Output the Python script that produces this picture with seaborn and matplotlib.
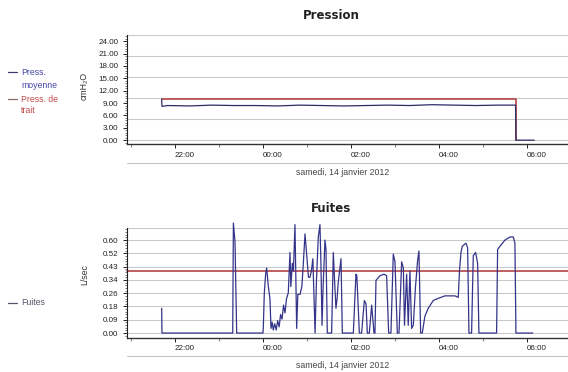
import numpy as np
import pandas as pd
import matplotlib
matplotlib.use("Agg")
import matplotlib.pyplot as plt
import matplotlib.dates as mdates
from matplotlib.ticker import FixedLocator, AutoMinorLocator, FixedFormatter
from matplotlib.lines import Line2D
import seaborn as sns

# ---------------- data ----------------
day = "2012-01-14"
# minutes relative to 00:00 on 14 Jan 2012 (negative = evening of 13 Jan)
press_moy_min = [-138.2, -137.8, -130, -100, -70, -40, -10, 20, 50, 80, 110,
                 140, 170, 200, 230, 260, 290, 320, 344.5, 345.0, 370]
press_moy_val = [9.9, 8.2, 8.4, 8.3, 8.5, 8.4, 8.4, 8.3, 8.5, 8.4, 8.3,
                 8.4, 8.5, 8.4, 8.6, 8.5, 8.4, 8.5, 8.5, 0.0, 0.0]
press_trait_min = [-138.2, 345.0, 345.0]
press_trait_val = [10.0, 10.0, 0.0]

fuites_min = [-138.2, -137.8, -41.3, -40.4, -38.2, -35.9, 0.0, 0.5, 1.8, 3.6,
              5.0, 7.3, 9.5, 10.9, 12.5, 14, 16, 18, 20, 22,
              24, 26, 28, 30, 32, 34.5, 36.8, 38, 40, 41.5,
              43.6, 45.9, 47.5, 50.5, 53, 55, 57.3, 59.5, 62, 64.1,
              66, 68, 71, 73, 75.4, 77.7, 79, 80.5, 82, 84.5,
              85.9, 87.7, 93.6, 95.9, 97.5, 99.5, 101, 102.7, 106.4, 108.2,
              123.2, 126.8, 128, 131.4, 134.5, 138.2, 140.5, 142.3, 145.0, 148.2,
              151.4, 152.7, 154.1, 159.5, 165.0, 168.6, 171.4, 174.5, 177.7, 180.0,
              183.2, 185.5, 189.1, 191.4, 193, 195.9, 198.1, 200.4, 202.7, 205.0,
              208, 210.9, 212.7, 215.0, 217.2, 220.9, 225.4, 232.2, 236.8, 248.1,
              261.8, 266.3, 268, 270, 271.8, 276.8, 279.1, 280.9, 284.5, 286.8,
              290.0, 292.7, 294.5, 318.6, 320.0, 323.2, 330.0, 336.8, 341.4, 343.6,
              345.0, 368]
fuites_val = [0.16, 0.0, 0.0, 0.71, 0.59, 0.0, 0.0, 0.05, 0.26, 0.38,
              0.42, 0.30, 0.22, 0.03, 0.07, 0.02, 0.06, 0.02, 0.08, 0.04,
              0.12, 0.09, 0.18, 0.13, 0.22, 0.26, 0.52, 0.30, 0.45, 0.40,
              0.70, 0.03, 0.25, 0.25, 0.30, 0.45, 0.64, 0.51, 0.36, 0.36,
              0.40, 0.48, 0.0, 0.35, 0.62, 0.70, 0.45, 0.05, 0.30, 0.60,
              0.54, 0.0, 0.0, 0.52, 0.35, 0.16, 0.22, 0.33, 0.48, 0.0,
              0.0, 0.38, 0.37, 0.0, 0.0, 0.21, 0.19, 0.0, 0.0, 0.18,
              0.0, 0.0, 0.34, 0.37, 0.38, 0.37, 0.0, 0.0, 0.51, 0.46,
              0.0, 0.0, 0.46, 0.42, 0.05, 0.38, 0.05, 0.40, 0.03, 0.05,
              0.30, 0.47, 0.53, 0.0, 0.0, 0.11, 0.16, 0.21, 0.22, 0.24,
              0.24, 0.23, 0.40, 0.52, 0.56, 0.58, 0.55, 0.0, 0.0, 0.50,
              0.52, 0.45, 0.0, 0.0, 0.54, 0.56, 0.60, 0.62, 0.62, 0.58,
              0.0, 0.0]
leak_threshold = 0.40

press_ticks = [0, 3, 6, 9, 12, 15, 18, 21, 24]
press_ticklabels = ["0.00", "3.00", "6.00", "9.00", "12.00", "15.00", "18.00", "21.00", "24.00"]
fuites_ticklabels = ["0.00", "0.09", "0.18", "0.26", "0.34", "0.43", "0.52", "0.60"]
date_label = "samedi, 14 janvier 2012"

# ---------------- helpers ----------------
base = pd.Timestamp(day)
def to_time(mins):
    return base + pd.to_timedelta(np.asarray(mins, dtype=float), unit="min")

df_moy = pd.DataFrame({"t": to_time(press_moy_min), "v": press_moy_val})
df_trait = pd.DataFrame({"t": to_time(press_trait_min), "v": press_trait_val})
df_fu = pd.DataFrame({"t": to_time(fuites_min), "v": fuites_val})

sns.set_style("white")
plt.rcParams["font.family"] = ["Liberation Sans", "DejaVu Sans"]

W, H = 568, 372
fig = plt.figure(figsize=(W / 100, H / 100), dpi=100)

def fx(px):
    return px / W
def fy(py):
    return 1 - py / H

ax1 = fig.add_axes([fx(127), fy(144.3), fx(441), 109.3 / H])
ax2 = fig.add_axes([fx(127), fy(337.7), fx(441), 110 / H])

xmin = to_time([-185.5])[0]
xmax = to_time([416])[0]

navy = "#34348a"
red = "#bb5050"
grid_c = "#c9c9c9"

# ---- top panel ----
sns.lineplot(data=df_trait, x="t", y="v", ax=ax1, color=red, lw=1.3,
             estimator=None, sort=False, legend=False)
sns.lineplot(data=df_moy, x="t", y="v", ax=ax1, color="#2c2c66", lw=0.9,
             estimator=None, sort=False, legend=False)
ax1.set_ylim(-1.0, 25.5)
for g in np.linspace(0, 25.5, 6):
    ax1.axhline(g, color=grid_c, lw=0.8, zorder=0)
ax1.yaxis.set_major_locator(FixedLocator(press_ticks))
ax1.yaxis.set_major_formatter(FixedFormatter(press_ticklabels))
ax1.yaxis.set_minor_locator(AutoMinorLocator(5))

# ---- bottom panel ----
fu_ticks = list(np.linspace(0, 0.60, 8))
ax2.axhline(leak_threshold, color=red, lw=1.3, zorder=1)
sns.lineplot(data=df_fu, x="t", y="v", ax=ax2, color=navy, lw=0.9,
             estimator=None, sort=False, legend=False)
for ln in ax2.lines:
    ln.set_clip_on(False)
ax2.set_ylim(-0.03, 0.68)
for g in fu_ticks + [0.68]:
    ax2.axhline(g, color=grid_c, lw=0.8, zorder=0)
ax2.yaxis.set_major_locator(FixedLocator(fu_ticks))
ax2.yaxis.set_major_formatter(FixedFormatter(fuites_ticklabels))
ax2.yaxis.set_minor_locator(AutoMinorLocator(5))

for ax in (ax1, ax2):
    ax.set_xlim(xmin, xmax)
    ax.set_xlabel("")
    ax.set_ylabel("")
    ax.xaxis.set_major_locator(mdates.HourLocator(byhour=range(0, 24, 2)))
    ax.xaxis.set_minor_locator(mdates.HourLocator())
    ax.xaxis.set_major_formatter(mdates.DateFormatter("%H:%M"))
    for s in ("top", "right"):
        ax.spines[s].set_visible(False)
    ax.spines["left"].set_color("#222222")
    ax.spines["left"].set_linewidth(0.8)
    ax.spines["bottom"].set_color("#333333")
    ax.spines["bottom"].set_linewidth(1.0)
    ax.tick_params(axis="both", which="major", labelsize=5.8, colors="#222222",
                   length=3, width=0.7, direction="out", left=True, bottom=True)
    ax.tick_params(axis="both", which="minor", length=1.8, width=0.5,
                   direction="out", left=True, bottom=True, colors="#444444")
    ax.tick_params(axis="y", which="major", pad=3.2)
    ax.tick_params(axis="x", which="major", pad=2.6)
    for lab in ax.get_xticklabels():
        lab.set_ha("left")
    ax.set_facecolor("white")

# axis labels
fig.text(fx(84), fy(85.5), "cmH\u2082O", rotation=90, ha="center", va="center",
         fontsize=6.3, color="#333333")
fig.text(fx(85), fy(275), "L/sec", rotation=90, ha="center", va="center",
         fontsize=6.3, color="#333333")

# titles
fig.text(fx(331), fy(15.5), "Pression", ha="center", va="center",
         fontsize=8.5, fontweight="bold", family="DejaVu Sans", color="#222222")
fig.text(fx(331), fy(208.5), "Fuites", ha="center", va="center",
         fontsize=8.5, fontweight="bold", family="DejaVu Sans", color="#222222")

# separators and date labels
for ysep in (163.3, 356):
    fig.add_artist(Line2D([fx(127), fx(568)], [fy(ysep), fy(ysep)],
                          color="#c4c4c4", lw=0.8))
fig.text(fx(342.5), fy(172.5), date_label, ha="center", va="center",
         fontsize=6.3, color="#444444")
fig.text(fx(342.5), fy(365), date_label, ha="center", va="center",
         fontsize=6.3, color="#444444")

# legends
def leg_line(y, c):
    fig.add_artist(Line2D([fx(8), fx(17)], [fy(y), fy(y)], color=c, lw=0.9))

leg_line(72.3, "#3a3a6a")
fig.text(fx(21), fy(72.3), "Press.", ha="left", va="center", fontsize=6.3, color="#4646a8")
fig.text(fx(21), fy(85), "moyenne", ha="left", va="center", fontsize=6.3, color="#4646a8")
leg_line(99, "#8a6a6a")
fig.text(fx(21), fy(99), "Press. de", ha="left", va="center", fontsize=6.3, color="#c04a4a")
fig.text(fx(21), fy(110.5), "trait", ha="left", va="center", fontsize=6.3, color="#c04a4a")
leg_line(302.7, "#55556a")
fig.text(fx(21), fy(302.7), "Fuites", ha="left", va="center", fontsize=6.3, color="#55556a")

fig.savefig("out.png", dpi=100)
